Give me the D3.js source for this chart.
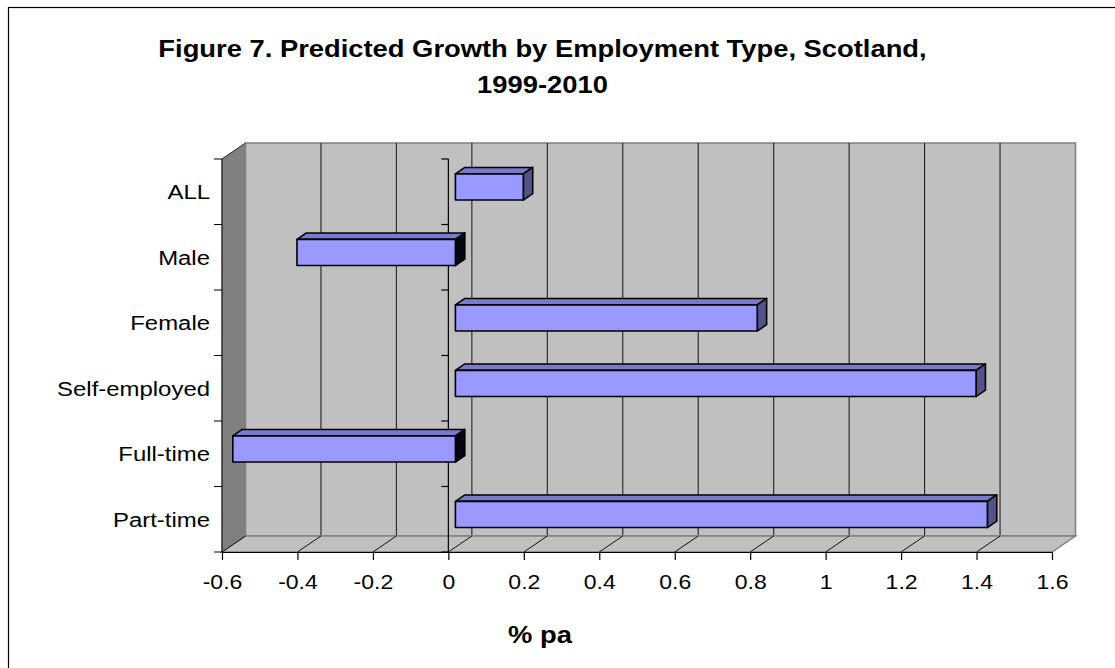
<!DOCTYPE html>
<html>
<head>
<meta charset="utf-8">
<script src="https://cdn.jsdelivr.net/npm/d3@7"></script>
<style>
  html, body { margin: 0; padding: 0; background: #fff; }
  svg { display: block; }
  text { font-family: Arial, "Liberation Sans", sans-serif; fill: #000; }
</style>
</head>
<body>
<svg id="chart" width="1115" height="668"></svg>
<script>
// Predicted annual growth (% pa), 1999-2010
const categories = ["ALL", "Male", "Female", "Self-employed", "Full-time", "Part-time"];
const growth = [0.18, -0.42, 0.80, 1.38, -0.59, 1.41];
const tickValues = [-0.6, -0.4, -0.2, 0, 0.2, 0.4, 0.6, 0.8, 1, 1.2, 1.4, 1.6];
const tickLabels = ["-0.6", "-0.4", "-0.2", "0", "0.2", "0.4", "0.6", "0.8", "1", "1.2", "1.4", "1.6"];

const svg = d3.select("#chart");

// chart frame
svg.append("rect")
  .attr("x", 8.5).attr("y", 7.5)
  .attr("width", 1200).attr("height", 800)
  .attr("fill", "#fff").attr("stroke", "#000").attr("stroke-width", 1.2);

// front plane scales
const x = d3.scaleLinear().domain([-0.6, 1.6]).range([222, 1052]);
const y = d3.scaleBand().domain(categories).range([159, 552]).paddingInner(0).paddingOuter(0);

// 3-D depth offset of the back plane
const DX = 23.5, DY = -16;
const P = (vx, vy, f) => [vx + DX * f, vy + DY * f];
const poly = pts => pts.map(p => p.join(",")).join(" ");

const x0 = x.domain()[0], x1 = x.domain()[1];
const yTop = y.range()[0], yBot = y.range()[1];

// back wall
svg.append("polygon")
  .attr("points", poly([P(x(x0), yTop, 1), P(x(x1), yTop, 1), P(x(x1), yBot, 1), P(x(x0), yBot, 1)]))
  .attr("fill", "#c0c0c0").attr("stroke", "#808080").attr("stroke-width", 1.5);

// side wall
svg.append("polygon")
  .attr("points", poly([P(x(x0), yTop, 0), P(x(x0), yTop, 1), P(x(x0), yBot, 1), P(x(x0), yBot, 0)]))
  .attr("fill", "#808080").attr("stroke", "#808080").attr("stroke-width", 1);

// floor
svg.append("polygon")
  .attr("points", poly([P(x(x0), yBot, 0), P(x(x1), yBot, 0), P(x(x1), yBot, 1), P(x(x0), yBot, 1)]))
  .attr("fill", "#c0c0c0").attr("stroke", "#808080").attr("stroke-width", 1.5);

// gridlines: vertical on back wall, diagonal on floor
const gridVals = tickValues.filter(v => v > x0 && v < x1);
svg.append("g").selectAll("line.wall").data(gridVals).join("line")
  .attr("x1", d => P(x(d), yTop, 1)[0]).attr("y1", d => P(x(d), yTop, 1)[1])
  .attr("x2", d => P(x(d), yBot, 1)[0]).attr("y2", d => P(x(d), yBot, 1)[1] - 1)
  .attr("stroke", "#222").attr("stroke-width", 1.1);
svg.append("g").selectAll("line.floor").data(tickValues.filter(v => v < x1)).join("line")
  .attr("x1", d => x(d)).attr("y1", yBot)
  .attr("x2", d => P(x(d), yBot, 1)[0]).attr("y2", d => P(x(d), yBot, 1)[1])
  .attr("stroke", "#111").attr("stroke-width", 1);

// left edge of the side wall and the category axis at zero
const bounds = d3.range(categories.length + 1).map(i => yTop + i * y.step());
svg.append("line").attr("x1", x(x0)).attr("x2", x(x0)).attr("y1", yTop).attr("y2", yBot)
  .attr("stroke", "#000").attr("stroke-width", 1);
svg.append("line").attr("x1", x(x0)).attr("x2", P(x(x0), yTop, 1)[0])
  .attr("y1", yTop).attr("y2", P(x(x0), yTop, 1)[1])
  .attr("stroke", "#333").attr("stroke-width", 1);
svg.append("g").selectAll("line").data(bounds).join("line")
  .attr("x1", x(x0) - 8).attr("x2", x(x0)).attr("y1", d => d).attr("y2", d => d)
  .attr("stroke", "#000").attr("stroke-width", 1);

svg.append("line").attr("x1", x(0)).attr("x2", x(0)).attr("y1", yTop).attr("y2", yBot)
  .attr("stroke", "#000").attr("stroke-width", 1.2);
svg.append("g").selectAll("line").data(bounds).join("line")
  .attr("x1", x(0) - 7).attr("x2", x(0)).attr("y1", d => d).attr("y2", d => d)
  .attr("stroke", "#000").attr("stroke-width", 1.2);

// value axis along the front edge of the floor
const axis = d3.axisBottom(x).tickValues(tickValues)
  .tickFormat((d, i) => tickLabels[i]).tickSize(8).tickSizeOuter(0);
const gAxis = svg.append("g").attr("transform", `translate(0,${yBot})`).call(axis);
gAxis.select(".domain").attr("stroke", "#000").attr("stroke-width", 1.2);
gAxis.selectAll(".tick line").attr("stroke", "#000").attr("stroke-width", 1.2);
gAxis.selectAll(".tick text").remove();
gAxis.selectAll(".tick").append("g")
  .attr("transform", "translate(0,37) scale(1.15,1)")
  .append("text")
  .attr("text-anchor", "middle")
  .style("font-size", "20px")
  .text((d, i) => tickLabels[i]);

// category labels
svg.append("g").selectAll("g").data(categories).join("g")
  .attr("transform", d => `translate(210,${y(d) + y.step() / 2 + 7.5}) scale(1.14,1)`)
  .append("text")
  .attr("text-anchor", "end")
  .style("font-size", "21px")
  .text(d => d);

// 3-D bars
const fFront = 0.3, fBack = 0.7;
const barH = y.step() / 2.5;
const bars = svg.append("g").selectAll("g").data(categories.map((c, i) => ({ c, v: growth[i] }))).join("g");

bars.each(function (d) {
  const g = d3.select(this);
  const xa = x(Math.min(0, d.v)), xb = x(Math.max(0, d.v));
  const yc = y(d.c) + y.step() / 2;
  const ya = yc - barH / 2, yb = yc + barH / 2;
  const A = P(xa, ya, fFront), B = P(xb, ya, fFront), C = P(xb, yb, fFront), D = P(xa, yb, fFront);
  const A2 = P(xa, ya, fBack), B2 = P(xb, ya, fBack), C2 = P(xb, yb, fBack);
  const face = (pts, fill) => g.append("polygon").attr("points", poly(pts)).attr("fill", fill)
    .attr("stroke", "#000").attr("stroke-width", 1.6).attr("stroke-linejoin", "round");
  face([A, B, B2, A2], "#7a7acc");                       // top
  face([B, B2, C2, C], d.v < 0 ? "#050510" : "#52528c"); // right end
  face([A, B, C, D], "#9999ff");                         // front
});

// titles
const title = svg.append("g").attr("transform", "translate(542.5,0)");
title.append("g").attr("transform", "translate(0,57) scale(1.14,1)").append("text")
  .attr("text-anchor", "middle").style("font-size", "24px").style("font-weight", "bold")
  .text("Figure 7. Predicted Growth by Employment Type, Scotland,");
title.append("g").attr("transform", "translate(0,93) scale(1.14,1)").append("text")
  .attr("text-anchor", "middle").style("font-size", "24px").style("font-weight", "bold")
  .text("1999-2010");

svg.append("g").attr("transform", "translate(540,643) scale(1.14,1)").append("text")
  .attr("text-anchor", "middle").style("font-size", "24px").style("font-weight", "bold")
  .text("% pa");
</script>
</body>
</html>
